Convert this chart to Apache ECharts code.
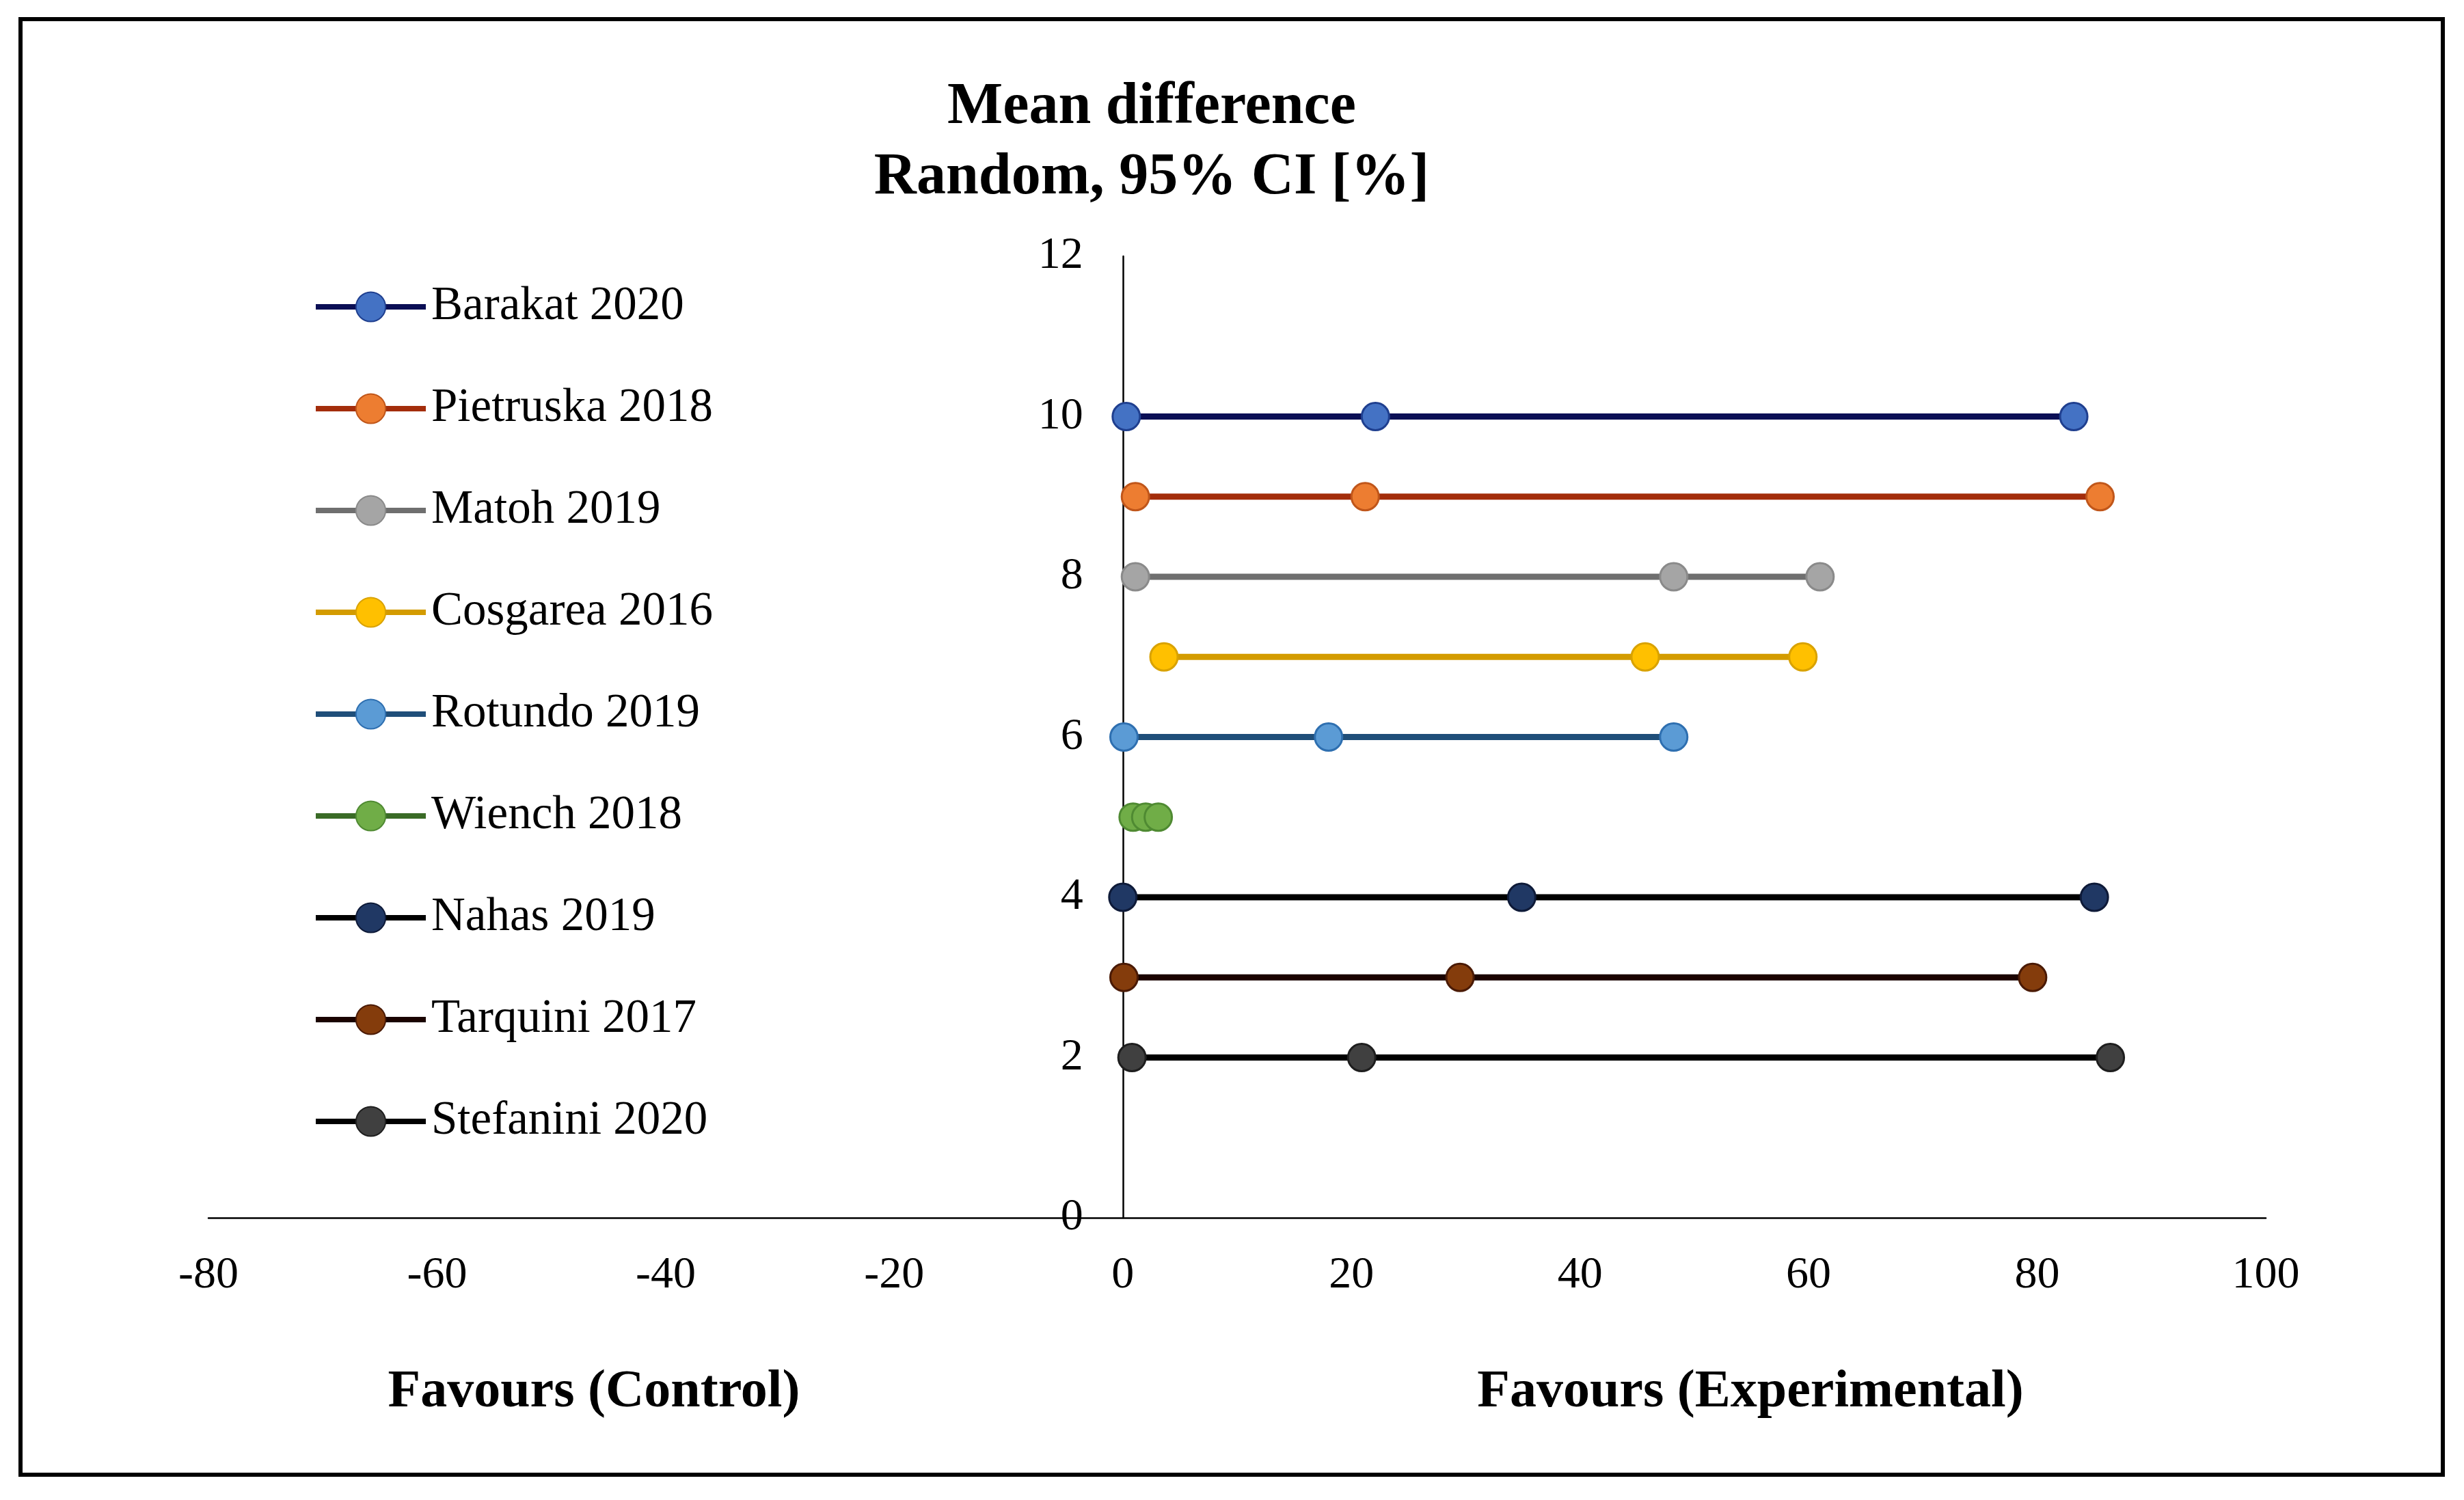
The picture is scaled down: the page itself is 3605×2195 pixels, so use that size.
<!DOCTYPE html>
<html>
<head>
<meta charset="utf-8">
<script src="https://cdn.jsdelivr.net/npm/echarts@6/dist/echarts.min.js"></script>
<style>
html,body{margin:0;padding:0;background:#fff;}
#chart{width:3605px;height:2195px;}
</style>
</head>
<body>
<div id="chart"></div>
<script>
// ---- data ----
const studies = ['Barakat 2020','Pietruska 2018','Matoh 2019','Cosgarea 2016','Rotundo 2019','Wiench 2018','Nahas 2019','Tarquini 2017','Stefanini 2020'];
const rowY    = [10, 9, 8, 7, 6, 5, 4, 3, 2];
const lowerCI = [0.3, 1.1, 1.1, 3.6, 0.1, 0.9, 0.0, 0.1, 0.8];
const meanVal = [22.1, 21.2, 48.2, 45.7, 18.0, 2.0, 34.9, 29.5, 20.9];
const upperCI = [83.2, 85.5, 61.0, 59.5, 48.2, 3.1, 85.0, 79.6, 86.4];
const xTicks  = [-80, -60, -40, -20, 0, 20, 40, 60, 80, 100];
const yTicks  = [0, 2, 4, 6, 8, 10, 12];
const titleLines = ['Mean difference', 'Random, 95% CI [%]'];
const leftLabel = 'Favours (Control)';
const rightLabel = 'Favours (Experimental)';

// ---- styles ----
const lineColors   = ['#0b0f55','#a32d0b','#6f6f6f','#d39b00','#1f4e79','#3a6b26','#000000','#1a0300','#000000'];
const markerColors = ['#4472c4','#ed7d31','#a5a5a5','#ffc000','#5b9bd5','#70ad47','#203864','#843c0c','#404040'];
const markerBorder = ['#1f3f8f','#c0561a','#8a8a8a','#d9a200','#2e6fb0','#4f8a32','#0e1a38','#4a1a05','#1e1e1e'];
const FONT = '"Liberation Serif", "Times New Roman", serif';

const series = studies.map((name, i) => ({
  name: name,
  type: 'line',
  data: [[lowerCI[i], rowY[i]], [meanVal[i], rowY[i]], [upperCI[i], rowY[i]]],
  symbol: 'circle',
  symbolSize: 40,
  lineStyle: { color: lineColors[i], width: 9 },
  itemStyle: { color: markerColors[i], borderColor: markerBorder[i], borderWidth: 3 },
  emphasis: { disabled: true },
  z: 3
}));

const chart = echarts.init(document.getElementById('chart'));
const GRID_LEFT = 305, GRID_RIGHT = 290;
chart.setOption({
  animation: false,
  backgroundColor: '#ffffff',
  grid: { left: GRID_LEFT, right: GRID_RIGHT, top: 375, bottom: 413, containLabel: false },
  xAxis: {
    type: 'value', min: xTicks[0], max: xTicks[xTicks.length - 1], interval: 20,
    axisLine: { show: true, onZero: false, lineStyle: { color: '#000', width: 2.5 } },
    axisTick: { show: false },
    splitLine: { show: false },
    axisLabel: { color: '#000', fontFamily: FONT, fontSize: 66, margin: 52 }
  },
  yAxis: {
    type: 'value', min: yTicks[0], max: yTicks[yTicks.length - 1], interval: 2,
    // place the y axis (line + labels) at x = 0 of the x axis
    offset: -((3605 - GRID_LEFT - GRID_RIGHT) * (0 - xTicks[0]) / (xTicks[xTicks.length - 1] - xTicks[0])),
    axisLine: { show: true, onZero: false, lineStyle: { color: '#000', width: 2.5 } },
    axisTick: { show: false },
    splitLine: { show: false },
    axisLabel: { color: '#000', fontFamily: FONT, fontSize: 66, margin: 58 }
  },
  legend: {
    orient: 'vertical',
    left: 453,
    top: 409,
    itemWidth: 161,
    itemHeight: 54,
    itemGap: 79,
    selectedMode: false,
    data: studies,
    lineStyle: { width: 8 },
    textStyle: { color: '#000', fontFamily: FONT, fontSize: 69, lineHeight: 70, padding: [0, 0, 0, 3] }
  },
  graphic: [
    { type: 'rect', shape: { x: 30, y: 28, width: 3544, height: 2130 },
      style: { fill: 'none', stroke: '#000', lineWidth: 6 }, silent: true },
    { type: 'text', x: 1685, y: 158,
      style: { text: titleLines[0], font: 'bold 86px ' + FONT, fill: '#000', align: 'center', verticalAlign: 'middle' } },
    { type: 'text', x: 1685, y: 261,
      style: { text: titleLines[1], font: 'bold 86px ' + FONT, fill: '#000', align: 'center', verticalAlign: 'middle' } },
    { type: 'text', x: 869, y: 2038,
      style: { text: leftLabel, font: 'bold 78px ' + FONT, fill: '#000', align: 'center', verticalAlign: 'middle' } },
    { type: 'text', x: 2561, y: 2038,
      style: { text: rightLabel, font: 'bold 78px ' + FONT, fill: '#000', align: 'center', verticalAlign: 'middle' } }
  ],
  series: series
});
</script>
</body>
</html>
